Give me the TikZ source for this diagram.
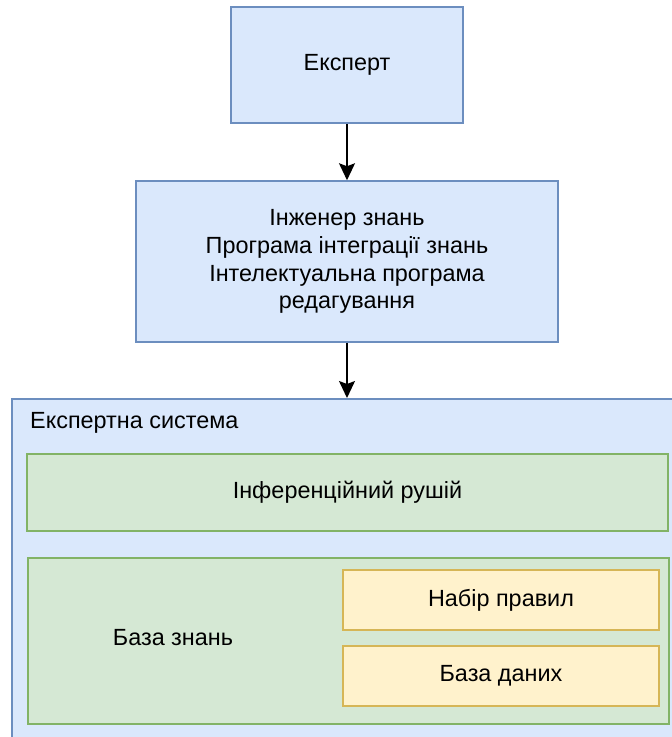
\documentclass[tikz,border=0pt]{standalone}
\usepackage{fontspec}
\setmainfont{Liberation Sans}
\usetikzlibrary{arrows.meta}
\definecolor{blueFill}{HTML}{DAE8FC}
\definecolor{blueLine}{HTML}{6C8EBF}
\definecolor{greenFill}{HTML}{D5E8D4}
\definecolor{greenLine}{HTML}{82B366}
\definecolor{yellowFill}{HTML}{FFF2CC}
\definecolor{yellowLine}{HTML}{D6B656}
\tikzset{
	txt/.style={font=\fontsize{23.4}{27.8}\selectfont, align=center, inner sep=0pt},
	box/.style={txt, rectangle, line width=1.5pt},
	bluebox/.style={box, draw=blueLine, fill=blueFill},
	greenbox/.style={box, draw=greenLine, fill=greenFill},
	yellowbox/.style={box, draw=yellowLine, fill=yellowFill},
	arrow/.style={line width=1.6pt, -{Stealth[width=16pt,length=17pt,inset=3pt]}}
}

\begin{document}
\begin{tikzpicture}[x=1pt,y=-1pt]
				\useasboundingbox (0,0) rectangle (672,737);
				\clip (0,0) rectangle (672,737);
				\node (expert) [bluebox, minimum width=232pt, minimum height=116pt] at (347,65) {Експерт};
				\node (engineer) [bluebox, minimum width=422pt, minimum height=161pt] at (347,261.5) {Інженер знань\\Програма інтеграції знань\\Інтелектуальна програма\\редагування};
				%
				\node (system) [bluebox, anchor=north west, minimum width=700pt, minimum height=380pt] at (11,398) {};
				\node (systitle) [txt, anchor=west] at (30,423) {Експертна система};
				\node (engine) [greenbox, minimum width=641pt, minimum height=77pt] at (347.5,492.5) {Інференційний рушій};
				\node (kbase) [greenbox, anchor=north west, minimum width=641pt, minimum height=166pt] at (27,557) {};
				\node (kbtitle) [txt] at (173,638) {База знань};
				\node (rules) [yellowbox, minimum width=316pt, minimum height=60pt] at (501,600) {Набір правил};
				\node (data) [yellowbox, minimum width=316pt, minimum height=60pt] at (501,676) {База даних};
				%
				\draw [arrow] (expert) -- (engineer);
				\draw [arrow] (engineer) -- (engineer |- system.north);
			\end{tikzpicture}
\end{document}
